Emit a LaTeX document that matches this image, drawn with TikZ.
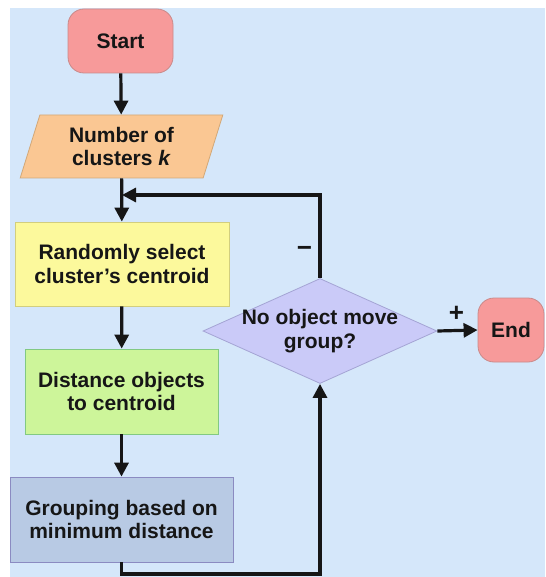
\documentclass[tikz,border=0pt]{standalone}
\usepackage{fontspec}
\setmainfont{Liberation Sans}
\usetikzlibrary{shapes.geometric,arrows.meta}
\definecolor{bgblue}{HTML}{D5E7FA}
\definecolor{termfill}{HTML}{F79A9A}
\definecolor{termdraw}{HTML}{C98A8A}
\definecolor{inputfill}{HTML}{FAC793}
\definecolor{inputdraw}{HTML}{D2A878}
\definecolor{stepyellow}{HTML}{FCF99C}
\definecolor{stepgreen}{HTML}{CDF59A}
\definecolor{stepblue}{HTML}{B8CAE4}
\definecolor{checkfill}{HTML}{CACAF8}
\definecolor{checkdraw}{HTML}{A4A4D4}
\definecolor{ink}{HTML}{161616}
\begin{document}
\begin{tikzpicture}[x=1pt, y=-1pt,
    every node/.style={font=\fontsize{21}{23.5}\selectfont\bfseries, text=ink, align=center},
    terminal/.style={draw=termdraw, fill=termfill, line width=0.8pt, rounded corners=16pt,
      minimum width=105pt, minimum height=64pt},
    inputbox/.style={trapezium, trapezium left angle=72, trapezium right angle=108,
      trapezium stretches=true, draw=inputdraw, fill=inputfill, line width=0.8pt,
      inner sep=0pt, minimum width=203pt, minimum height=63pt},
    process/.style={rectangle, line width=0.8pt, inner sep=0pt},
    decision/.style={diamond, draw=checkdraw, fill=checkfill, line width=0.8pt,
      inner sep=0pt, minimum width=234pt, minimum height=105pt},
    sign/.style={font=\fontsize{26}{26}\selectfont\bfseries},
    flow/.style={draw=ink, line width=3.2pt, -{Triangle[length=14pt,width=14pt]}}]
    \useasboundingbox (0,0) rectangle (545,577);
    \fill[bgblue] (10,8) rectangle (545,577);

    \node[terminal] (start) at (120.5,41) {Start};
    \node[inputbox] (count) at (121.5,146.5) {Number of\\clusters \textit{k}};
    \node[process, draw=yellow!50!gray!80, fill=stepyellow,
      minimum width=214pt, minimum height=84pt] (random) at (122,264) {Randomly select\\cluster’s centroid};
    \node[process, draw=green!40!gray!70, fill=stepgreen,
      minimum width=193pt, minimum height=85pt] (dist) at (121.5,391.5) {Distance objects\\to centroid};
    \node[process, draw=blue!30!gray!70, fill=stepblue,
      minimum width=223pt, minimum height=85pt] (group) at (121.5,519.5) {Grouping based on\\minimum distance};
    \node[decision, label={[align=center]center:No object move\\group?}] (check) at (320,331) {};
    \node[terminal, minimum width=66pt] (finish) at (511,330) {End};

    \coordinate (join) at (122,195);
    \coordinate (loop) at (320,574);

    \draw[flow] (start) -- (count);
    \draw[flow] (count) -- (random);
    \draw[flow] (random) -- (dist);
    \draw[flow] (dist) -- (group);
    \draw[flow] (group.south) |- (loop) -- (check.south);
    \draw[flow] (check.north) |- node[sign, left=3pt, pos=0.16] (minus) {−} (join);
    \draw[flow] (check.east) -- node[sign, above=4pt, xshift=-1pt] (plus) {+} (finish.west);
\end{tikzpicture}
\end{document}
